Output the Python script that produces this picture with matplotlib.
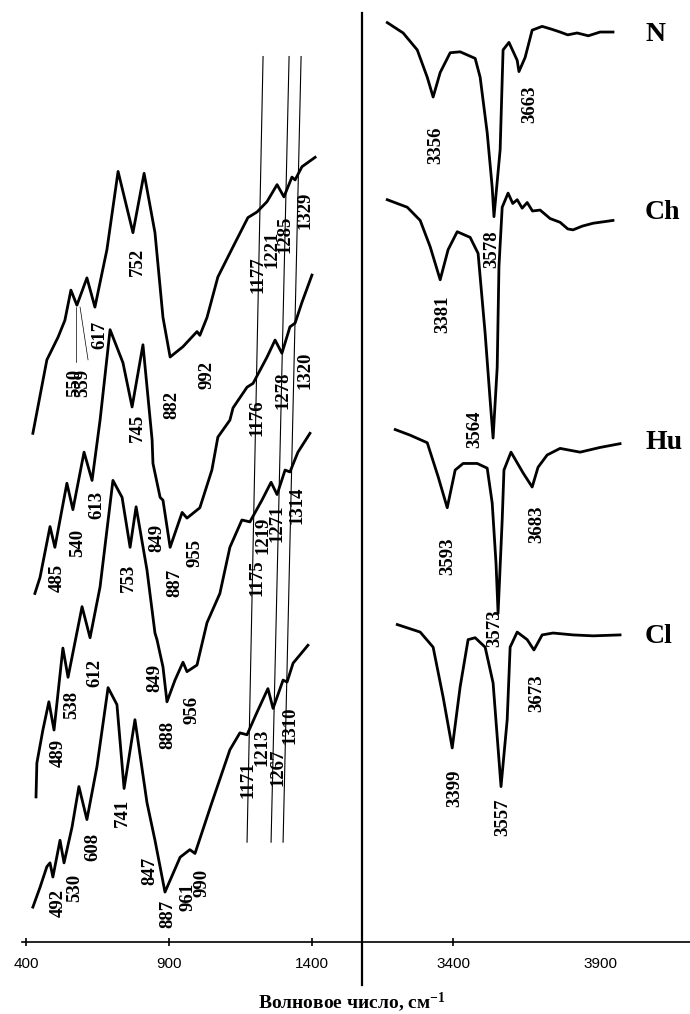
import numpy as np
import matplotlib
matplotlib.use("Agg")
import matplotlib.pyplot as plt
from matplotlib.lines import Line2D

plt.rcParams["mathtext.fontset"] = "custom"
plt.rcParams["mathtext.rm"] = "Liberation Serif:bold"
plt.rcParams["mathtext.it"] = "Liberation Serif:bold"

# ---- spectra, left region (wavenumber, transmittance a.u.) ----
s1_wn = [424, 473, 512, 536, 557, 578, 613, 641, 683, 722, 774, 813, 851, 879, 904,
         949, 998, 1008, 1033, 1071, 1124, 1176, 1208, 1243, 1278, 1302, 1330, 1341, 1365, 1411]
s1_t = [54.0, 61.8, 64.2, 66.0, 69.2, 67.6, 70.5, 67.4, 73.5, 81.8, 75.3, 81.6, 75.3, 66.3, 62.1,
        63.2, 64.8, 64.4, 66.3, 70.6, 73.8, 76.9, 77.5, 78.6, 80.4, 79.1, 81.2, 80.9, 82.3, 83.3]

s2_wn = [431, 449, 484, 501, 543, 564, 603, 631, 659, 694, 739, 771, 809, 841, 844, 869, 879,
         904, 946, 963, 1008, 1050, 1071, 1113, 1124, 1173, 1194, 1243, 1271, 1295, 1323, 1341,
         1365, 1400]
s2_t = [37.0, 38.7, 44.1, 41.9, 48.7, 45.9, 52.0, 49.0, 55.4, 65.0, 61.5, 56.8, 63.4, 53.3, 50.8,
        47.2, 46.9, 41.9, 45.6, 45.0, 46.1, 50.1, 53.6, 55.4, 56.7, 58.9, 59.3, 62.1, 63.9, 62.5,
        65.3, 65.7, 67.9, 70.8]

s3_wn = [435, 438, 459, 480, 498, 529, 547, 596, 624, 659, 704, 736, 764, 785, 823, 851, 858,
         879, 893, 921, 949, 963, 998, 1019, 1033, 1078, 1113, 1155, 1183, 1225, 1257, 1278,
         1306, 1323, 1351, 1393]
s3_t = [15.4, 19.0, 22.5, 25.5, 22.5, 31.2, 28.1, 35.6, 32.3, 37.7, 49.0, 47.2, 41.9, 46.2, 39.5,
        32.8, 32.1, 29.2, 25.5, 27.8, 29.7, 28.7, 29.4, 32.1, 33.9, 37.0, 41.9, 44.8, 44.6, 46.9,
        48.8, 47.5, 50.1, 49.9, 52.0, 54.0]

s4_wn = [424, 449, 473, 484, 494, 519, 533, 561, 585, 613, 648, 687, 718, 743, 781, 823, 851,
         886, 939, 973, 991, 1050, 1113, 1148, 1173, 1208, 1246, 1264, 1299, 1313, 1334, 1386]
s4_t = [3.7, 5.8, 8.0, 8.4, 6.9, 10.8, 8.4, 12.2, 16.5, 13.0, 18.6, 27.0, 25.2, 16.3, 23.6, 14.8,
        10.8, 5.3, 9.0, 9.8, 9.4, 14.8, 20.4, 22.2, 22.0, 24.4, 26.9, 24.8, 27.8, 27.6, 29.6, 31.5]

# ---- spectra, right region ----
n_wn = [3176, 3230, 3278, 3312, 3332, 3356, 3390, 3424, 3475, 3492, 3516, 3533, 3539, 3560,
        3570, 3590, 3618, 3624, 3645, 3669, 3703, 3735, 3764, 3790, 3822, 3860, 3900, 3944]
n_t = [97.6, 96.5, 94.7, 91.8, 89.7, 92.3, 94.4, 94.5, 93.8, 91.8, 85.9, 80.1, 77.0, 84.1,
       94.7, 95.5, 93.6, 92.4, 93.9, 96.8, 97.2, 96.9, 96.6, 96.3, 96.5, 96.2, 96.6, 96.6]

ch_wn = [3176, 3244, 3288, 3322, 3356, 3383, 3414, 3458, 3485, 3509, 3526, 3536, 3550, 3556,
         3567, 3587, 3603, 3618, 3635, 3652, 3670, 3696, 3730, 3764, 3790, 3808, 3840, 3876, 3944]
ch_t = [78.8, 78.0, 76.6, 73.8, 70.3, 73.5, 75.4, 74.8, 73.1, 64.6, 57.5, 53.5, 61.0, 71.7,
        78.0, 79.5, 78.4, 78.8, 77.9, 78.5, 77.6, 77.7, 76.8, 76.4, 75.7, 75.6, 76.0, 76.3, 76.6]

hu_wn = [3203, 3254, 3312, 3349, 3380, 3407, 3434, 3482, 3516, 3533, 3546, 3553, 3567, 3573,
         3597, 3638, 3669, 3689, 3720, 3764, 3832, 3900, 3968]
hu_t = [54.4, 53.8, 53.0, 49.4, 46.1, 50.1, 50.8, 50.8, 50.3, 46.6, 40.2, 34.9, 44.8, 50.1,
        52.0, 49.8, 48.3, 50.4, 51.7, 52.4, 52.0, 52.5, 52.9]

cl_wn = [3210, 3288, 3332, 3366, 3397, 3424, 3451, 3475, 3509, 3536, 3563, 3584, 3594, 3618,
         3652, 3675, 3703, 3740, 3808, 3876, 3968]
cl_t = [33.7, 32.9, 31.3, 26.0, 20.6, 27.1, 32.1, 32.3, 31.3, 27.5, 16.5, 23.6, 31.3, 32.9,
        32.1, 31.0, 32.6, 32.8, 32.6, 32.5, 32.6]

# ---- peak labels (text, wn, t) ----
left_labels = [("550", 571, 59.3), ("559", 599, 59.3), ("617", 659, 64.4), ("752", 788, 72.2),
               ("882", 911, 57.0), ("992", 1033, 60.2), ("1177", 1211, 70.8), ("1221", 1260, 73.5),
               ("1285", 1306, 75.1), ("1329", 1376, 77.7),
               ("745", 788, 54.6), ("1176", 1208, 55.7), ("1278", 1299, 58.6), ("1320", 1376, 60.7),
               ("485", 508, 38.7), ("540", 582, 42.4), ("613", 648, 46.4), ("849", 858, 42.9),
               ("887", 921, 38.1), ("955", 991, 41.3), ("1175", 1208, 38.7), ("1219", 1229, 43.2),
               ("1271", 1278, 44.5), ("1314", 1348, 46.4), ("753", 757, 38.7),
               ("612", 641, 28.6), ("538", 561, 25.2), ("489", 512, 20.1), ("849", 851, 28.0),
               ("888", 897, 22.0), ("956", 980, 24.6), ("1310", 1323, 23.0), ("1213", 1225, 20.7),
               ("1267", 1281, 18.5), ("1171", 1176, 17.2),
               ("741", 736, 13.7), ("608", 634, 10.1), ("847", 834, 7.6), ("530", 571, 5.7),
               ("492", 512, 4.1), ("961", 967, 4.8), ("990", 1016, 6.3), ("887", 897, 3.0)]

right_labels = [("3356", 3342, 84.6), ("3663", 3662, 88.9), ("3578", 3533, 73.5),
                ("3381", 3366, 66.6), ("3564", 3475, 54.4), ("3593", 3383, 40.9),
                ("3683", 3686, 44.3), ("3573", 3543, 33.3), ("3673", 3686, 26.4),
                ("3399", 3407, 16.3), ("3557", 3570, 13.2)]

names = ["N", "Ch", "Hu", "Cl"]
name_t = [96.3, 77.4, 53.0, 32.4]

# guide lines: (wn top, wn bottom)
guide_top = [1229, 1320, 1362]
guide_bot = [1173, 1257, 1299]

fig = plt.figure(figsize=(6.9, 10.14), dpi=100)
H = 942 / 1014
ax1 = fig.add_axes([22 / 690, 1 - H, 340 / 690, H])
ax2 = fig.add_axes([362 / 690, 1 - H, 328 / 690, H])

lw = 2.0
for wn, t in [(s1_wn, s1_t), (s2_wn, s2_t), (s3_wn, s3_t), (s4_wn, s4_t)]:
    ax1.plot(wn, t, color="black", lw=lw, solid_joinstyle="round")
for wn, t in [(n_wn, n_t), (ch_wn, ch_t), (hu_wn, hu_t), (cl_wn, cl_t)]:
    ax2.plot(wn, t, color="black", lw=lw, solid_joinstyle="round")

for a, b in zip(guide_top, guide_bot):
    ax1.plot([a, b], [94.0, 10.6], color="black", lw=0.8)
# small leader lines for 550 / 559
ax1.plot([575, 575], [67.4, 61.6], color="black", lw=0.5)
ax1.plot([589, 617], [67.4, 61.8], color="black", lw=0.5)

lab_font = dict(family="Liberation Serif", weight="bold", size=13.5)
for s, x, y in left_labels:
    ax1.text(x, y, s, rotation=90, ha="center", va="center", **lab_font)
for s, x, y in right_labels:
    ax2.text(x, y, s, rotation=90, ha="center", va="center", **lab_font)
for s, y in zip(names, name_t):
    ax2.text(4053, y, s, ha="left", va="center", family="Liberation Serif",
             weight="bold", size=20)

ax1.set_xlim(386, 1575)
ax2.set_xlim(3090, 4206)
for ax in (ax1, ax2):
    ax.set_ylim(0, 100)
    ax.set_yticks([])
    for sp in ("top", "right", "left"):
        ax.spines[sp].set_visible(False)
    ax.spines["bottom"].set_linewidth(1.2)
    ax.tick_params(axis="x", direction="inout", length=6, width=1.2, pad=8, labelsize=11)
    ax.patch.set_alpha(0)
    for lbl in ax.get_xticklabels():
        lbl.set_family("Liberation Sans")
ax1.set_xticks([400, 900, 1400])
ax2.set_xticks([3400, 3900])
ax2.xaxis.get_major_ticks()[1].tick1line.set_visible(False)
for ax in (ax1, ax2):
    for lbl in ax.get_xticklabels():
        lbl.set_family("Liberation Sans")

# separator line between the two regions
fig.add_artist(Line2D([362 / 690, 362 / 690], [1 - 13 / 1014, 1 - 985 / 1014],
                      color="black", lw=1.6))

fig.text(352 / 690, 1 - 1002 / 1014, r"Волновое число, см$^{-1}$", ha="center", va="center",
         family="Liberation Serif", weight="bold", size=14)

fig.savefig("out.png", dpi=100)
